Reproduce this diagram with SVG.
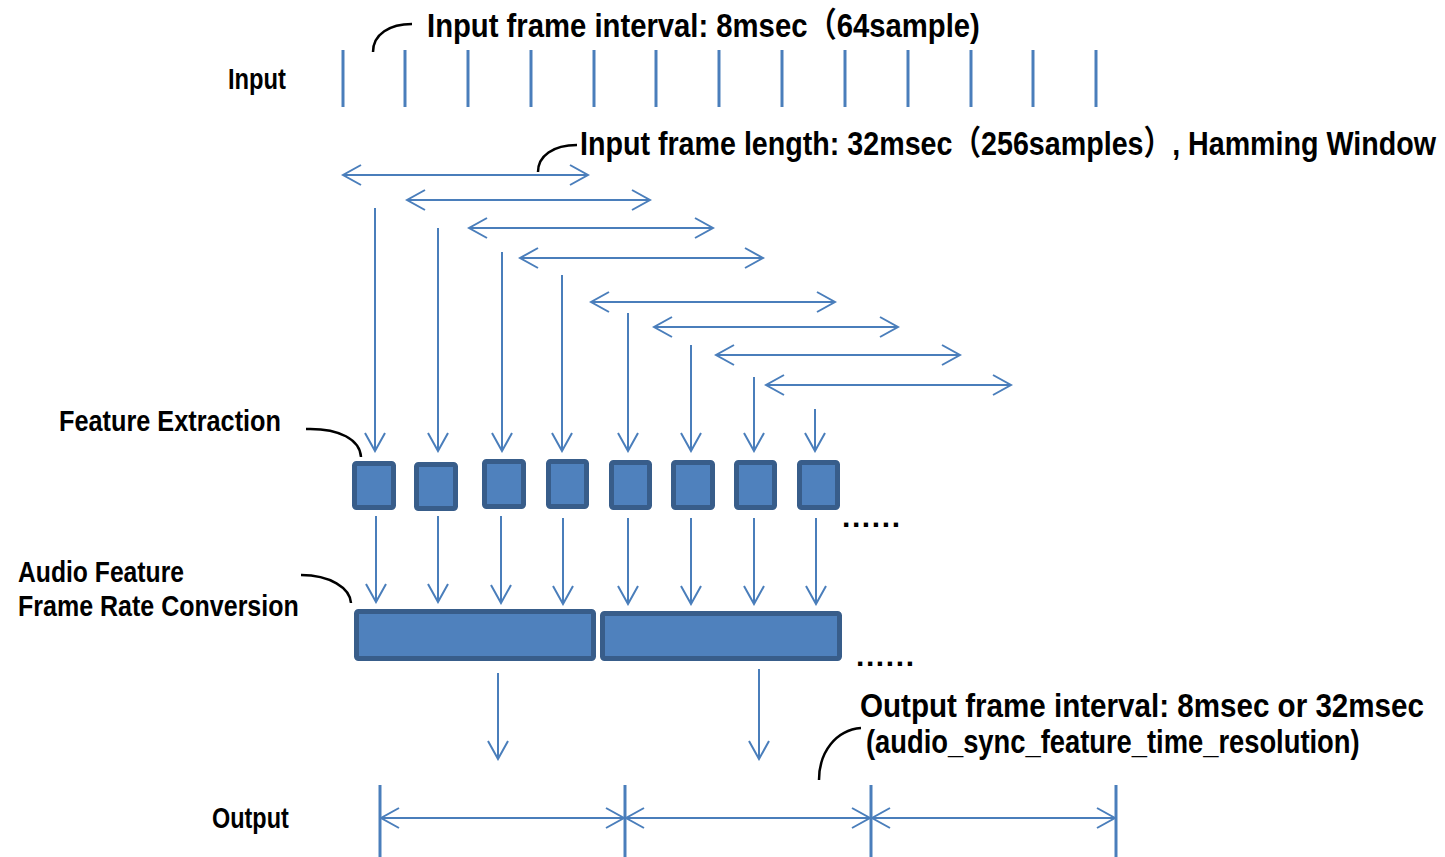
<svg xmlns="http://www.w3.org/2000/svg" width="1445" height="857" viewBox="0 0 1445 857">
  <style>
    .lbl { font-family: "Liberation Sans", "Noto Sans CJK JP", sans-serif; font-weight: bold; fill: #000; }
    .tick { stroke: #4A7EBB; stroke-width: 3; fill: none; }
    .dbl { stroke: #4A7EBB; stroke-width: 2; fill: none; marker-start: url(#ah); marker-end: url(#ah); }
    .down { stroke: #4A7EBB; stroke-width: 2; fill: none; marker-end: url(#ah); }
    .lead { stroke: #000; stroke-width: 2.5; fill: none; }
    .blk { fill: #4F81BD; stroke: #385D8A; stroke-width: 5; }
    .dots { font-family: "Liberation Sans", sans-serif; font-weight: bold; font-size: 30px; fill: #000; }
  </style>
  <defs>
    <marker id="ah" viewBox="-21 -12 23 24" refX="0" refY="0" markerWidth="23" markerHeight="24" markerUnits="userSpaceOnUse" orient="auto-start-reverse">
      <path d="M-18,-10 L0,0 L-18,10" fill="none" stroke="#4A7EBB" stroke-width="2"/>
    </marker>
  </defs>
  <rect width="1445" height="857" fill="#fff"/>

  <!-- input sample grid -->
  <g id="input-ticks">
    <line class="tick" x1="343" y1="50" x2="343" y2="107"/>
    <line class="tick" x1="405" y1="50" x2="405" y2="107"/>
    <line class="tick" x1="468" y1="50" x2="468" y2="107"/>
    <line class="tick" x1="531" y1="50" x2="531" y2="107"/>
    <line class="tick" x1="594" y1="50" x2="594" y2="107"/>
    <line class="tick" x1="656" y1="50" x2="656" y2="107"/>
    <line class="tick" x1="719" y1="50" x2="719" y2="107"/>
    <line class="tick" x1="782" y1="50" x2="782" y2="107"/>
    <line class="tick" x1="845" y1="50" x2="845" y2="107"/>
    <line class="tick" x1="908" y1="50" x2="908" y2="107"/>
    <line class="tick" x1="971" y1="50" x2="971" y2="107"/>
    <line class="tick" x1="1033" y1="50" x2="1033" y2="107"/>
    <line class="tick" x1="1096" y1="50" x2="1096" y2="107"/>
  </g>

  <!-- labels: set in a horizontally condensed face (x scaled by 0.8) -->
  <g id="labels">
    <text class="lbl" transform="translate(228,89) scale(0.8,1)" font-size="30" textLength="72.5" lengthAdjust="spacingAndGlyphs">Input</text>
    <text class="lbl" transform="translate(427,37) scale(0.8,1)" font-size="34" textLength="691" lengthAdjust="spacingAndGlyphs">Input frame interval: 8msec（64sample)</text>
    <text class="lbl" transform="translate(580,155) scale(0.8,1)" font-size="34" textLength="1070" lengthAdjust="spacingAndGlyphs">Input frame length: 32msec（256samples）, Hamming Window</text>
    <text class="lbl" transform="translate(59,431) scale(0.8,1)" font-size="30" textLength="277.5" lengthAdjust="spacingAndGlyphs">Feature Extraction</text>
    <text class="lbl" transform="translate(18,582) scale(0.8,1)" font-size="30" textLength="207.5" lengthAdjust="spacingAndGlyphs">Audio Feature</text>
    <text class="lbl" transform="translate(18,616) scale(0.8,1)" font-size="30" textLength="351" lengthAdjust="spacingAndGlyphs">Frame Rate Conversion</text>
    <text class="lbl" transform="translate(212,828) scale(0.8,1)" font-size="30" textLength="96" lengthAdjust="spacingAndGlyphs">Output</text>
    <text class="lbl" transform="translate(860,717) scale(0.8,1)" font-size="34" textLength="705" lengthAdjust="spacingAndGlyphs">Output frame interval: 8msec or 32msec</text>
    <text class="lbl" transform="translate(866,753) scale(0.8,1)" font-size="34" textLength="617" lengthAdjust="spacingAndGlyphs">(audio_sync_feature_time_resolution)</text>
    <text class="dots" x="842" y="527" textLength="58" lengthAdjust="spacing">......</text>
    <text class="dots" x="856" y="666" textLength="58" lengthAdjust="spacing">......</text>
  </g>

  <!-- callout leaders -->
  <g id="leaders">
    <path class="lead" d="M373,52 C373,34 390,24 412,24"/>
    <path class="lead" d="M538,172 C538,156 553,145 577,145"/>
    <path class="lead" d="M306,429 C340,428 360,440 361,457"/>
    <path class="lead" d="M301,575 C330,575 350,588 351,603"/>
    <path class="lead" d="M819,780 C819,752 836,730 861,728"/>
  </g>

  <!-- feature extraction blocks -->
  <g id="fe1"><rect class="blk" x="354.5" y="463.5" width="39" height="44" rx="2"/></g>
  <g id="fe2"><rect class="blk" x="416.5" y="464.5" width="39" height="44" rx="2"/></g>
  <g id="fe3"><rect class="blk" x="484.5" y="461.5" width="39" height="45" rx="2"/></g>
  <g id="fe4"><rect class="blk" x="548.5" y="461.5" width="38" height="45" rx="2"/></g>
  <g id="fe5"><rect class="blk" x="611.5" y="462.5" width="38" height="45" rx="2"/></g>
  <g id="fe6"><rect class="blk" x="673.5" y="462.5" width="39" height="45" rx="2"/></g>
  <g id="fe7"><rect class="blk" x="736.5" y="462.5" width="38" height="45" rx="2"/></g>
  <g id="fe8"><rect class="blk" x="799.5" y="462.5" width="38" height="45" rx="2"/></g>

  <!-- frame rate conversion blocks -->
  <g id="frc1"><rect class="blk" x="356.5" y="611.5" width="237" height="47" rx="2"/></g>
  <g id="frc2"><rect class="blk" x="602.5" y="613.5" width="237" height="45" rx="2"/></g>

  <g id="connectors">
    <!-- analysis windows -->
    <line class="dbl" x1="343" y1="175" x2="588" y2="175"/>
    <line class="dbl" x1="407" y1="200" x2="650" y2="200"/>
    <line class="dbl" x1="469" y1="228" x2="713" y2="228"/>
    <line class="dbl" x1="520" y1="258" x2="763" y2="258"/>
    <line class="dbl" x1="591" y1="302" x2="835" y2="302"/>
    <line class="dbl" x1="654" y1="327" x2="898" y2="327"/>
    <line class="dbl" x1="716" y1="355" x2="960" y2="355"/>
    <line class="dbl" x1="766" y1="385" x2="1011" y2="385"/>

    <!-- windows into feature extraction -->
    <line class="down" x1="375" y1="208" x2="375" y2="451"/>
    <line class="down" x1="438" y1="228" x2="438" y2="451"/>
    <line class="down" x1="502" y1="252" x2="502" y2="451"/>
    <line class="down" x1="562" y1="275" x2="562" y2="451"/>
    <line class="down" x1="628" y1="313" x2="628" y2="451"/>
    <line class="down" x1="691" y1="345" x2="691" y2="451"/>
    <line class="down" x1="754" y1="377" x2="754" y2="451"/>
    <line class="down" x1="815" y1="409" x2="815" y2="451"/>

    <!-- feature extraction into rate conversion -->
    <line class="down" x1="376" y1="516" x2="376" y2="602"/>
    <line class="down" x1="438" y1="516" x2="438" y2="602"/>
    <line class="down" x1="501" y1="516" x2="501" y2="603"/>
    <line class="down" x1="563" y1="518" x2="563" y2="604"/>
    <line class="down" x1="628" y1="518" x2="628" y2="604"/>
    <line class="down" x1="691" y1="518" x2="691" y2="604"/>
    <line class="down" x1="754" y1="518" x2="754" y2="604"/>
    <line class="down" x1="816" y1="518" x2="816" y2="604"/>

    <!-- rate conversion to output -->
    <line class="down" x1="498" y1="673" x2="498" y2="759"/>
    <line class="down" x1="759" y1="669" x2="759" y2="759"/>

    <!-- output frame grid -->
    <line class="tick" x1="380" y1="785" x2="380" y2="857"/>
    <line class="tick" x1="625" y1="785" x2="625" y2="857"/>
    <line class="tick" x1="871" y1="785" x2="871" y2="857"/>
    <line class="tick" x1="1116" y1="785" x2="1116" y2="857"/>
    <line class="dbl" x1="381" y1="818" x2="624" y2="818"/>
    <line class="dbl" x1="626" y1="818" x2="870" y2="818"/>
    <line class="dbl" x1="872" y1="818" x2="1115" y2="818"/>
  </g>
</svg>
